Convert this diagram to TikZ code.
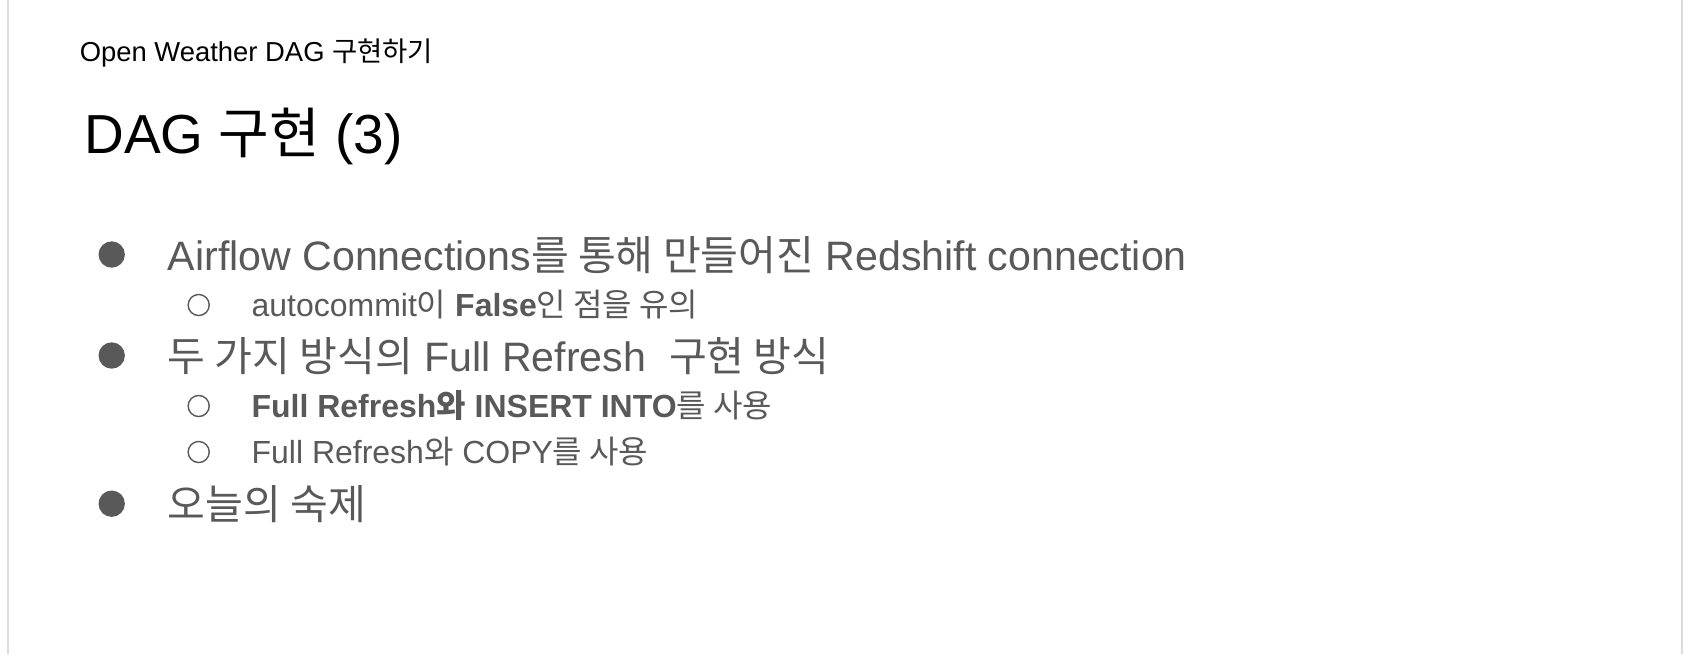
\documentclass[tikz,border=0pt]{standalone}
\usepackage{fontspec}
\setmainfont{Liberation Sans}
\newfontfamily\krfont{Noto Sans CJK KR}
\newcommand{\kr}[1]{{\krfont #1}}
\definecolor{bodygray}{HTML}{595959}
\definecolor{framegray}{HTML}{D9DDE3}
\begin{document}
\begin{tikzpicture}[x=0.02cm, y=-0.02cm,
    headtext/.style={anchor=base west, inner sep=0pt, font=\fontsize{15.6}{18}\selectfont},
    titletext/.style={anchor=base west, inner sep=0pt, font=\fontsize{31.3}{36}\selectfont},
    lvlone/.style={anchor=base west, inner sep=0pt, text=bodygray, font=\fontsize{23.4}{28}\selectfont},
    lvltwo/.style={anchor=base west, inner sep=0pt, text=bodygray, font=\fontsize{18.2}{22}\selectfont},
    bigdot/.style={circle, fill=bodygray, inner sep=0pt, minimum size=15},
    smalldot/.style={circle, draw=bodygray, line width=0.8pt, inner sep=0pt, minimum size=12}]
    \useasboundingbox (0,0) rectangle (1684,654);
    \fill[white] (0,0) rectangle (1684,654);
    \draw[framegray, line width=1pt] (8,0) -- (8,654);
    \draw[framegray, line width=1pt] (1682,0) -- (1682,654);
    % header and title
    \node[headtext] (head) at (79.5,61) {Open Weather DAG \kr{구현하기}};
    \node[titletext] (title) at (84,153.5) {DAG \kr{구현} (3)};
    % bullets
    \foreach \y/\n in {254.5/a,355.5/b,503.7/c}
      \node[bigdot] (dot\n) at (111.7,\y) {};
    \foreach \y/\n in {305/a,406/b,452/c}
      \node[smalldot] (ring\n) at (198.7,\y) {};
    % items
    \node[lvlone] (itema) at (167.5,270.5) {Airflow Connections\kr{를 통해 만들어진} Redshift connection};
    \node[lvltwo] (suba) at (251.3,316.5) {autocommit\kr{이} \textbf{False}\kr{인 점을 유의}};
    \node[lvlone] (itemb) at (167.5,371.5) {\kr{두 가지 방식의} Full Refresh\ \ \kr{구현 방식}};
    \node[lvltwo] (subb) at (251.3,417.5) {\textbf{Full Refresh\kr{와} INSERT INTO}\kr{를 사용}};
    \node[lvltwo] (subc) at (251.3,463.5) {Full Refresh\kr{와} COPY\kr{를 사용}};
    \node[lvlone] (itemc) at (167.5,519.7) {\kr{오늘의 숙제}};
\end{tikzpicture}
\end{document}
